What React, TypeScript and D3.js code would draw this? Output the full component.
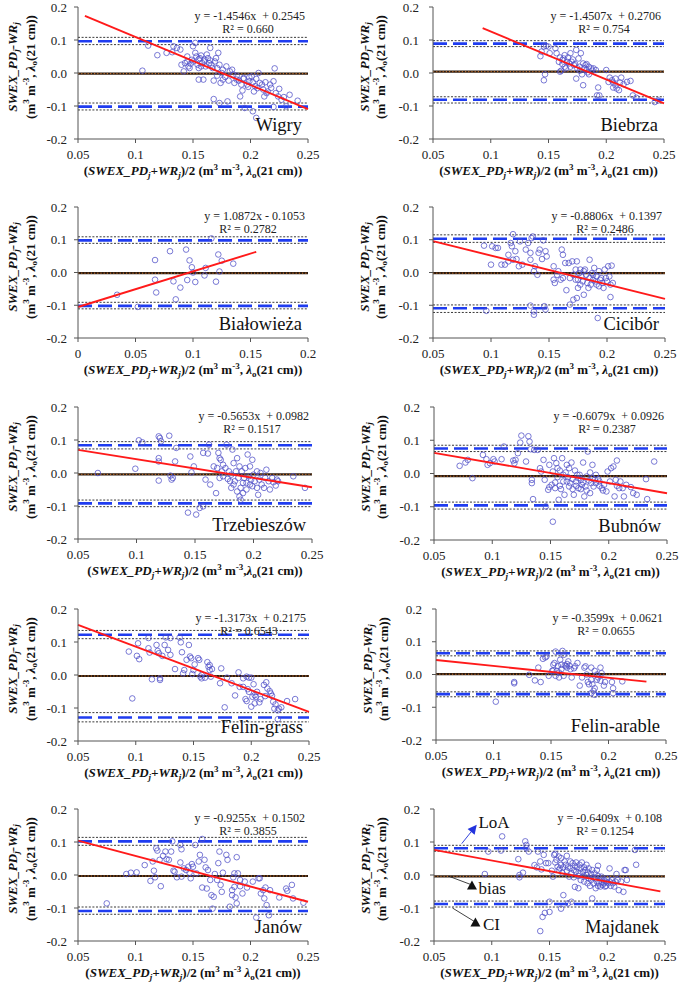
import React from 'react';
import * as d3 from 'd3';

type P = [number, number];

const wigryPts: P[] = [
  [0.111,0.083],[0.119,0.054],[0.106,0.007],[0.127,0.061],[0.133,0.081],[0.139,0.071],[0.140,0.025],[0.142,0.005],
  [0.145,0.035],[0.146,0.02],[0.149,0.04],[0.150,0.081],[0.152,0.091],[0.153,0.05],[0.156,0.045],[0.157,0.02],
  [0.159,-0.02],[0.160,0.035],[0.163,0.045],[0.165,0.076],[0.166,0.025],[0.168,-0.079],[0.169,0.035],[0.171,0.015],
  [0.172,0.061],[0.173,-0.091],[0.175,0.0],[0.176,-0.02],[0.179,0.02],[0.182,0.005],[0.185,-0.005],[0.188,-0.02],
  [0.191,-0.071],[0.194,-0.015],[0.195,-0.106],[0.197,-0.035],[0.199,-0.025],[0.201,-0.01],[0.202,-0.116],[0.204,-0.04],
  [0.205,-0.136],[0.207,0.0],[0.208,-0.03],[0.211,-0.05],[0.214,-0.061],[0.217,-0.035],[0.220,-0.025],[0.221,0.014],
  [0.224,-0.071],[0.227,-0.081],[0.231,-0.101],[0.241,-0.084],[0.234,-0.066],
  [0.132,0.063],[0.136,0.076],[0.143,0.030],[0.145,0.050],[0.147,0.015],[0.148,0.028],[0.150,0.035],[0.152,0.061],
  [0.154,0.025],[0.155,0.042],[0.155,0.015],[0.157,0.053],[0.158,0.030],[0.160,0.040],[0.161,0.020],[0.162,0.056],
  [0.164,0.030],[0.165,0.038],[0.167,0.015],[0.168,-0.023],[0.170,0.045],[0.171,-0.008],[0.173,0.025],[0.174,-0.030],
  [0.176,0.010],[0.178,-0.012],[0.181,-0.023],[0.184,0.010],[0.186,-0.030],[0.188,-0.008],[0.190,-0.023],[0.192,-0.035],
  [0.193,-0.053],[0.194,-0.018],[0.198,-0.042],[0.199,-0.013],[0.202,-0.028],[0.203,-0.056],[0.205,-0.018],[0.206,-0.046],
  [0.210,-0.035],[0.212,-0.071],[0.213,-0.028],[0.215,-0.056],[0.218,-0.045],[0.222,-0.061],[0.225,-0.048],[0.229,-0.073],
  [0.155,-0.020],[0.180,-0.086],[0.220,-0.103]
];

const biebrzaPts: P[] = [
  [0.143,0.051],[0.144,0.065],[0.146,-0.022],[0.147,-0.004],[0.146,0.080],[0.148,0.082],[0.150,0.080],[0.151,0.060],
  [0.156,0.075],[0.157,0.060],[0.159,0.034],[0.160,0.047],[0.160,0.004],[0.161,0.007],[0.162,0.039],[0.162,0.027],
  [0.163,0.044],[0.164,0.019],[0.164,0.054],[0.165,0.014],[0.166,0.034],[0.167,0.047],[0.168,0.029],[0.169,0.060],
  [0.169,0.019],[0.170,0.034],[0.171,0.041],[0.172,0.024],[0.173,0.027],[0.174,0.070],[0.174,-0.017],[0.175,0.014],
  [0.176,0.044],[0.177,0.019],[0.177,0.007],[0.178,0.060],[0.179,-0.004],[0.180,0.029],[0.180,-0.037],[0.181,0.014],
  [0.182,0.024],[0.183,0.009],[0.183,0.027],[0.184,0.002],[0.185,0.019],[0.185,-0.004],[0.187,0.014],[0.188,0.007],
  [0.189,0.014],[0.191,0.009],[0.193,-0.044],[0.192,-0.068],[0.194,-0.068],[0.200,0.009],[0.202,-0.027],[0.203,-0.014],
  [0.205,-0.022],[0.206,-0.044],[0.206,-0.029],[0.208,-0.037],[0.208,-0.017],[0.209,-0.047],[0.211,-0.052],[0.212,-0.029],
  [0.213,-0.014],[0.215,-0.034],[0.218,-0.027],[0.221,-0.024],[0.223,-0.068],[0.226,-0.075],[0.242,-0.088],[0.245,-0.083]
];

const bialowiezaPts: P[] = [
  [0.034,-0.068],[0.052,-0.105],[0.067,0.038],[0.067,-0.022],[0.068,-0.061],[0.080,0.065],[0.083,-0.027],[0.085,-0.082],
  [0.089,-0.046],[0.094,0.070],[0.095,-0.023],[0.097,0.037],[0.099,0.016],[0.100,0.000],[0.102,-0.029],[0.110,-0.009],
  [0.111,0.014],[0.116,0.104],[0.120,-0.028],[0.122,0.055],[0.123,0.003],[0.125,0.036],[0.135,0.027]
];

const ciciborPts: P[] = [
  [0.094,0.082],[0.100,0.024],[0.101,0.080],[0.104,0.075],[0.106,0.075],[0.109,0.024],[0.112,0.024],[0.115,0.034],
  [0.115,0.054],[0.117,0.090],[0.118,0.080],[0.119,0.117],[0.119,0.039],[0.121,0.065],[0.122,0.041],[0.124,0.019],
  [0.125,0.095],[0.127,0.024],[0.130,0.070],[0.132,0.090],[0.134,0.060],[0.134,0.039],[0.135,0.105],[0.136,0.110],
  [0.137,0.004],[0.138,0.019],[0.140,-0.007],[0.141,0.060],[0.142,0.070],[0.144,0.041],[0.145,0.098],[0.147,0.065],
  [0.148,0.049],[0.134,-0.101],[0.137,-0.119],[0.137,-0.129],[0.146,-0.103],[0.147,-0.113],[0.096,-0.117],[0.154,0.019],
  [0.154,-0.022],[0.155,-0.032],[0.157,-0.007],[0.158,0.004],[0.160,-0.022],[0.161,0.070],[0.162,0.054],[0.162,-0.017],
  [0.164,0.029],[0.165,-0.054],[0.167,0.029],[0.168,-0.017],[0.168,-0.098],[0.170,0.034],[0.171,-0.007],[0.171,-0.083],
  [0.173,-0.022],[0.173,0.009],[0.174,0.034],[0.174,-0.078],[0.175,-0.047],[0.175,-0.022],[0.176,-0.002],[0.177,-0.037],
  [0.177,0.009],[0.178,-0.012],[0.179,-0.027],[0.180,0.004],[0.180,-0.068],[0.181,0.009],[0.182,-0.007],[0.183,-0.032],
  [0.184,-0.047],[0.185,-0.017],[0.185,0.039],[0.186,-0.037],[0.187,-0.002],[0.188,-0.022],[0.188,-0.007],[0.189,0.014],
  [0.190,-0.027],[0.191,-0.012],[0.191,-0.037],[0.192,-0.139],[0.193,0.004],[0.193,-0.042],[0.194,-0.022],[0.195,-0.017],
  [0.196,-0.032],[0.197,-0.047],[0.198,0.009],[0.199,-0.017],[0.200,-0.027],[0.201,0.019],[0.202,-0.012],[0.203,-0.037],
  [0.203,-0.075],[0.204,0.021],[0.205,-0.032]
];

const trzebieszowPts: P[] = [
  [0.067,0.000],[0.099,0.013],[0.102,0.099],[0.105,0.093],[0.119,0.045],[0.119,0.035],[0.119,-0.023],[0.119,0.111],
  [0.120,0.106],[0.121,0.096],[0.128,0.113],[0.129,-0.008],[0.130,-0.020],[0.131,-0.015],[0.133,0.035],[0.134,0.076],
  [0.144,-0.120],[0.146,0.050],[0.147,0.002],[0.149,0.020],[0.151,-0.126],[0.154,-0.106],[0.157,-0.101],[0.157,0.061],
  [0.159,-0.020],[0.161,0.059],[0.162,0.086],[0.163,-0.035],[0.166,0.020],[0.168,-0.061],[0.169,0.015],[0.170,0.061],
  [0.171,-0.015],[0.171,0.045],[0.172,0.040],[0.173,0.005],[0.174,0.025],[0.174,-0.010],[0.176,0.015],[0.177,0.086],
  [0.178,-0.018],[0.179,0.005],[0.180,-0.025],[0.181,-0.005],[0.181,-0.045],[0.182,0.071],[0.183,0.030],[0.183,-0.035],
  [0.184,-0.025],[0.185,0.005],[0.186,-0.056],[0.186,0.045],[0.187,-0.015],[0.188,0.020],[0.188,-0.071],[0.189,-0.081],
  [0.189,-0.045],[0.190,0.005],[0.191,-0.030],[0.191,-0.061],[0.192,-0.015],[0.193,0.015],[0.194,-0.050],[0.194,-0.030],
  [0.195,0.056],[0.196,-0.010],[0.197,0.020],[0.197,-0.035],[0.198,-0.020],[0.199,0.040],[0.199,-0.040],[0.200,-0.005],
  [0.201,-0.025],[0.203,0.005],[0.203,-0.045],[0.204,-0.066],[0.205,-0.020],[0.206,0.000],[0.207,-0.035],[0.209,-0.045],
  [0.210,-0.015],[0.211,0.010],[0.213,-0.025],[0.214,-0.050],[0.216,-0.015],[0.217,-0.028],[0.219,-0.038],[0.220,-0.020],
  [0.221,-0.025],[0.234,-0.010],[0.244,-0.045]
];

const bubnowPts: P[] = [
  [0.072,0.023],[0.077,0.033],[0.079,0.041],[0.083,-0.014],[0.092,0.056],[0.095,0.043],[0.096,0.026],[0.098,0.031],
  [0.101,0.043],[0.102,0.036],[0.108,0.043],[0.110,0.081],[0.118,0.039],[0.119,0.031],[0.120,0.041],[0.122,0.061],
  [0.124,0.093],[0.125,0.114],[0.129,0.036],[0.131,0.112],[0.132,0.096],[0.133,0.073],[0.134,-0.019],[0.134,-0.029],
  [0.135,-0.077],[0.136,0.071],[0.139,0.071],[0.141,0.016],[0.142,0.006],[0.144,0.041],[0.145,-0.019],[0.146,-0.099],
  [0.148,-0.049],[0.149,0.026],[0.149,-0.041],[0.151,-0.034],[0.152,-0.145],[0.152,0.006],[0.153,0.046],[0.154,-0.044],
  [0.154,-0.027],[0.155,0.031],[0.156,0.016],[0.156,-0.011],[0.157,-0.079],[0.158,-0.037],[0.158,0.009],[0.159,-0.047],
  [0.160,0.046],[0.161,-0.024],[0.161,-0.004],[0.162,-0.064],[0.163,0.003],[0.164,-0.024],[0.164,0.026],[0.165,-0.011],
  [0.166,-0.039],[0.166,0.016],[0.167,-0.029],[0.168,0.033],[0.169,-0.017],[0.169,-0.047],[0.170,-0.064],[0.171,0.009],
  [0.172,-0.024],[0.172,-0.037],[0.173,-0.004],[0.174,-0.014],[0.174,-0.044],[0.175,-0.004],[0.176,-0.047],[0.176,-0.019],
  [0.177,-0.034],[0.178,0.033],[0.178,-0.027],[0.179,-0.069],[0.180,-0.039],[0.181,-0.009],[0.181,-0.051],[0.182,0.066],
  [0.183,-0.021],[0.184,-0.059],[0.184,0.003],[0.185,-0.029],[0.186,0.026],[0.186,-0.014],[0.187,-0.039],[0.188,-0.019],
  [0.189,-0.004],[0.189,-0.029],[0.191,-0.017],[0.192,-0.037],[0.192,-0.024],[0.194,-0.044],[0.195,-0.051],[0.196,-0.034],
  [0.198,-0.054],[0.199,0.006],[0.201,-0.024],[0.202,0.016],[0.204,0.021],[0.205,-0.069],[0.206,-0.019],[0.207,0.039],
  [0.207,-0.037],[0.209,-0.044],[0.210,-0.024],[0.212,-0.044],[0.213,-0.069],[0.215,-0.034],[0.219,-0.041],[0.221,-0.059],
  [0.224,-0.064],[0.232,-0.017],[0.233,-0.077],[0.239,0.036]
];

const felinGrassPts: P[] = [
  [0.094,0.071],[0.097,-0.071],[0.101,0.058],[0.102,0.096],[0.103,0.048],[0.111,0.112],[0.111,0.081],[0.112,0.068],
  [0.114,-0.013],[0.118,0.091],[0.119,0.073],[0.120,0.066],[0.121,-0.010],[0.121,-0.015],[0.123,0.058],[0.125,0.091],
  [0.126,0.114],[0.128,0.076],[0.130,0.061],[0.130,0.112],[0.134,0.018],[0.138,0.114],[0.139,0.099],[0.140,0.069],
  [0.141,0.005],[0.142,0.015],[0.144,0.046],[0.146,0.091],[0.147,0.056],[0.148,0.051],[0.149,0.003],[0.150,0.015],
  [0.151,0.032],[0.154,0.051],[0.155,0.046],[0.156,-0.005],[0.157,0.000],[0.157,-0.010],[0.160,-0.008],[0.162,0.039],
  [0.163,0.025],[0.164,0.015],[0.164,0.030],[0.165,-0.005],[0.166,0.018],[0.173,-0.025],[0.174,0.020],[0.177,-0.098],
  [0.179,-0.008],[0.183,-0.025],[0.186,-0.062],[0.189,0.008],[0.190,-0.036],[0.193,-0.010],[0.193,-0.036],[0.195,-0.073],
  [0.196,-0.005],[0.196,-0.079],[0.197,-0.043],[0.198,-0.008],[0.198,-0.051],[0.200,-0.096],[0.200,-0.008],[0.201,-0.066],
  [0.202,-0.028],[0.203,-0.061],[0.203,-0.086],[0.204,-0.066],[0.205,-0.051],[0.207,-0.083],[0.208,-0.073],[0.211,-0.030],
  [0.212,-0.064],[0.213,-0.022],[0.214,-0.041],[0.216,-0.049],[0.217,-0.056],[0.218,-0.063],[0.219,-0.081],[0.220,-0.102],
  [0.221,-0.089],[0.223,-0.107],[0.223,-0.134],[0.224,-0.102],[0.226,-0.098],[0.231,-0.079],[0.238,-0.073]
];

const felinArablePts: P[] = [
  [0.102,-0.083],[0.118,-0.023],[0.118,-0.027],[0.131,-0.001],[0.136,-0.018],[0.139,0.021],[0.141,-0.023],[0.143,0.048],
  [0.145,0.052],[0.146,0.055],[0.148,-0.004],[0.151,0.011],[0.152,0.013],[0.152,0.030],[0.153,0.035],[0.154,-0.004],
  [0.154,0.070],[0.155,0.011],[0.156,0.026],[0.157,0.006],[0.157,-0.009],[0.158,0.045],[0.159,0.016],[0.159,0.030],
  [0.160,0.072],[0.161,-0.004],[0.161,0.060],[0.162,0.028],[0.163,0.025],[0.164,0.032],[0.164,0.021],[0.165,0.040],
  [0.166,0.027],[0.167,0.016],[0.168,-0.009],[0.170,0.019],[0.171,0.025],[0.173,0.035],[0.175,-0.034],[0.177,-0.009],
  [0.179,0.021],[0.180,0.025],[0.181,0.000],[0.182,-0.023],[0.183,-0.030],[0.185,0.021],[0.185,-0.016],[0.186,-0.030],
  [0.187,-0.050],[0.188,-0.042],[0.188,0.011],[0.190,-0.016],[0.190,0.000],[0.191,-0.009],[0.193,-0.019],[0.193,0.021],
  [0.194,0.004],[0.196,-0.034],[0.197,-0.023],[0.203,-0.023],[0.204,-0.042],[0.204,-0.057],[0.212,-0.021],[0.185,-0.057],
  [0.188,-0.062]
];

const janowPts: P[] = [
  [0.075,-0.086],[0.092,0.003],[0.096,0.007],[0.101,0.008],[0.108,0.030],[0.113,-0.018],[0.115,0.041],[0.116,0.013],
  [0.117,-0.007],[0.118,0.081],[0.119,0.074],[0.121,0.046],[0.122,-0.034],[0.124,0.058],[0.126,0.071],[0.127,0.048],
  [0.129,0.046],[0.131,0.071],[0.132,0.102],[0.133,0.013],[0.134,0.010],[0.136,-0.007],[0.139,0.038],[0.139,0.091],
  [0.140,0.078],[0.140,-0.005],[0.142,0.020],[0.144,0.015],[0.146,0.025],[0.147,0.007],[0.148,-0.010],[0.149,0.033],
  [0.150,0.025],[0.152,0.091],[0.153,0.005],[0.155,0.041],[0.156,0.061],[0.158,0.109],[0.158,-0.038],[0.160,0.046],
  [0.161,0.023],[0.162,-0.041],[0.163,0.015],[0.165,-0.015],[0.166,-0.061],[0.167,-0.102],[0.168,-0.066],[0.169,0.003],
  [0.171,-0.015],[0.172,0.036],[0.173,0.071],[0.174,-0.030],[0.175,-0.051],[0.176,0.007],[0.179,0.061],[0.180,0.046],
  [0.182,-0.096],[0.184,-0.046],[0.184,-0.061],[0.185,-0.007],[0.186,-0.036],[0.186,0.005],[0.187,-0.068],[0.188,0.054],
  [0.188,-0.086],[0.189,0.005],[0.191,-0.015],[0.191,-0.034],[0.193,-0.056],[0.195,-0.020],[0.197,-0.038],[0.202,-0.020],
  [0.205,-0.129],[0.207,-0.010],[0.208,-0.010],[0.209,-0.056],[0.211,-0.046],[0.212,-0.071],[0.213,-0.038],[0.214,-0.091],
  [0.216,-0.122],[0.217,-0.046],[0.225,-0.068],[0.231,-0.041],[0.232,-0.048],[0.236,-0.030],[0.237,-0.071],[0.246,-0.084]
];

const majdanekPts: P[] = [
  [0.094,0.003],[0.097,0.071],[0.109,0.117],[0.108,0.074],[0.123,0.048],[0.124,0.000],[0.124,-0.007],[0.127,0.007],
  [0.129,0.102],[0.130,0.091],[0.130,0.081],[0.132,0.071],[0.137,0.030],[0.139,0.023],[0.140,0.071],[0.142,0.041],
  [0.143,0.017],[0.144,-0.127],[0.145,0.061],[0.146,-0.115],[0.147,0.036],[0.142,-0.170],[0.149,0.036],[0.150,-0.112],
  [0.150,-0.081],[0.152,0.013],[0.153,-0.005],[0.154,0.061],[0.155,0.064],[0.155,0.038],[0.156,0.046],[0.157,0.025],
  [0.158,0.015],[0.158,0.056],[0.159,0.020],[0.160,-0.102],[0.160,0.031],[0.160,0.051],[0.161,0.007],[0.162,-0.061],
  [0.162,0.023],[0.163,0.041],[0.164,0.031],[0.165,0.013],[0.165,0.058],[0.166,-0.086],[0.166,0.023],[0.167,-0.005],
  [0.168,0.041],[0.168,0.020],[0.169,0.005],[0.169,-0.081],[0.170,0.036],[0.171,0.015],[0.171,-0.007],[0.172,0.028],
  [0.172,-0.036],[0.173,0.038],[0.173,0.010],[0.174,0.023],[0.175,-0.003],[0.175,-0.040],[0.176,0.031],[0.176,0.005],
  [0.177,0.020],[0.177,-0.015],[0.178,0.038],[0.179,0.010],[0.179,-0.005],[0.180,0.023],[0.180,-0.020],[0.181,0.015],
  [0.182,0.000],[0.182,0.031],[0.183,-0.025],[0.183,0.008],[0.184,-0.010],[0.184,0.020],[0.185,-0.033],[0.186,0.003],
  [0.186,-0.015],[0.187,0.015],[0.187,-0.071],[0.188,-0.007],[0.188,-0.025],[0.189,0.005],[0.190,-0.040],[0.190,-0.010],
  [0.191,0.015],[0.191,-0.020],[0.192,-0.033],[0.192,-0.003],[0.193,-0.025],[0.194,-0.010],[0.194,-0.035],[0.195,-0.005],
  [0.195,-0.020],[0.196,-0.030],[0.197,-0.015],[0.197,-0.025],[0.198,-0.035],[0.199,-0.020],[0.199,-0.033],[0.200,-0.010],
  [0.201,-0.025],[0.202,0.020],[0.202,-0.020],[0.203,-0.033],[0.204,-0.015],[0.205,-0.025],[0.206,-0.035],[0.207,-0.020],
  [0.208,0.003],[0.209,-0.015],[0.210,-0.046],[0.212,-0.020],[0.214,-0.051],[0.215,0.015],[0.216,0.015],[0.217,-0.015],
  [0.224,0.076],[0.225,0.031],[0.192,0.028]
];

const xTicksStd = [0.05, 0.1, 0.15, 0.2, 0.25];
const xTicksBial = [0, 0.05, 0.1, 0.15, 0.2];
const yTicks = [-0.2, -0.1, 0, 0.1, 0.2];

const siteNames = ['Wigry', 'Biebrza', 'Białowieża', 'Cicibór', 'Trzebieszów', 'Bubnów', 'Felin-grass', 'Felin-arable', 'Janów', 'Majdanek'];
const sitePoints = [wigryPts, biebrzaPts, bialowiezaPts, ciciborPts, trzebieszowPts, bubnowPts, felinGrassPts, felinArablePts, janowPts, majdanekPts];
const slopes = [-1.4546, -1.4507, 1.0872, -0.8806, -0.5653, -0.6079, -1.3173, -0.3599, -0.9255, -0.6409];
const intercepts = [0.2545, 0.2706, -0.1053, 0.1397, 0.0982, 0.0926, 0.2175, 0.0621, 0.1502, 0.108];
const equations = ['y = -1.4546x  + 0.2545', 'y = -1.4507x  + 0.2706', 'y = 1.0872x - 0.1053', 'y = -0.8806x  + 0.1397', 'y = -0.5653x  + 0.0982', 'y = -0.6079x  + 0.0926', 'y = -1.3173x  + 0.2175', 'y = -0.3599x  + 0.0621', 'y = -0.9255x  + 0.1502', 'y = -0.6409x  + 0.108'];
const r2Labels = ['R² = 0.660', 'R² = 0.754', 'R² = 0.2782', 'R² = 0.2486', 'R² = 0.1517', 'R² = 0.2387', 'R² = 0.6543', 'R² = 0.0655', 'R² = 0.3855', 'R² = 0.1254'];
const fitRanges: P[] = [[0.056, 0.25], [0.093, 0.25], [0, 0.155], [0.05, 0.25], [0.05, 0.25], [0.05, 0.25], [0.05, 0.25], [0.05, 0.233], [0.05, 0.25], [0.05, 0.246]];
const biasValues = [-0.002, 0.004, -0.002, -0.002, -0.004, -0.008, -0.003, 0.001, -0.003, -0.004];
const loaUpper = [0.096, 0.089, 0.098, 0.103, 0.084, 0.075, 0.122, 0.065, 0.102, 0.081];
const loaLower = [-0.102, -0.081, -0.102, -0.109, -0.092, -0.096, -0.129, -0.060, -0.109, -0.088];
const ciUpper: P[] = [[0.108, 0.086], [0.098, 0.080], [0.109, 0.089], [0.115, 0.092], [0.095, 0.073], [0.085, 0.066], [0.135, 0.110], [0.072, 0.057], [0.114, 0.090], [0.090, 0.072]];
const ciLower: P[] = [[-0.091, -0.112], [-0.072, -0.091], [-0.091, -0.111], [-0.099, -0.122], [-0.082, -0.102], [-0.086, -0.107], [-0.114, -0.142], [-0.053, -0.068], [-0.097, -0.119], [-0.079, -0.097]];
const xTitleSeps = [', ', ', ', ', ', ', ', ',', ', ', ', ', ', ', ' ', ', '];

// layout boxes [left, top, right, bottom]
const boxes = [
  [78, 7, 308, 139], [433, 7, 664, 139],
  [78, 207, 308, 338], [433, 207, 665, 338],
  [78, 407, 312, 539], [434, 407, 667, 540],
  [78, 609, 309, 741], [436, 609, 666, 740],
  [78, 809, 308, 941], [434, 809, 665, 941],
];

const FONT = '"Liberation Serif", "Times New Roman", serif';
const SUB = 9;

function XTitle({ cx, y, sep }: { cx: number; y: number; sep: string }) {
  return (
    <text x={cx} y={y} textAnchor="middle" fontWeight="bold" fontSize={13} fontFamily={FONT} style={{ whiteSpace: 'pre' }} fill="#111">
      <tspan>(</tspan>
      <tspan fontStyle="italic">SWEX_PD</tspan>
      <tspan fontStyle="italic" fontSize={SUB} dy={3}>j</tspan>
      <tspan fontStyle="italic" dy={-3}>+WR</tspan>
      <tspan fontStyle="italic" fontSize={SUB} dy={3}>j</tspan>
      <tspan dy={-3}>)/2 (m</tspan>
      <tspan fontSize={SUB} dy={-5}>3</tspan>
      <tspan dy={5}> m</tspan>
      <tspan fontSize={SUB} dy={-5}>-3</tspan>
      <tspan dy={5}>{sep}</tspan>
      <tspan fontStyle="italic">λ</tspan>
      <tspan fontSize={SUB} dy={3}>o</tspan>
      <tspan dy={-3}>(21 cm))</tspan>
    </text>
  );
}

function YTitle({ x1, x2, cy }: { x1: number; x2: number; cy: number }) {
  return (
    <g fontFamily={FONT} fontWeight="bold" fontSize={13} fill="#111" style={{ whiteSpace: 'pre' }}>
      <text transform={`translate(${x1},${cy}) rotate(-90)`} textAnchor="middle" dominantBaseline="middle" fontStyle="italic">
        <tspan>SWEX_PD</tspan>
        <tspan fontSize={SUB} dy={3}>j</tspan>
        <tspan dy={-3}>-WR</tspan>
        <tspan fontSize={SUB} dy={3}>j</tspan>
      </text>
      <text transform={`translate(${x2},${cy}) rotate(-90)`} textAnchor="middle" dominantBaseline="middle">
        <tspan>(m</tspan>
        <tspan fontSize={SUB} dy={-5}>3</tspan>
        <tspan dy={5}> m</tspan>
        <tspan fontSize={SUB} dy={-5}>-3</tspan>
        <tspan dy={5}>, </tspan>
        <tspan fontStyle="italic">λ</tspan>
        <tspan fontSize={SUB} dy={3}>o</tspan>
        <tspan dy={-3}>(21 cm))</tspan>
      </text>
    </g>
  );
}

function Panel({ i }: { i: number }) {
  const [l, t, r, b] = boxes[i];
  const col = i % 2;
  const isBial = i === 2;
  const xDomain: P = isBial ? [0, 0.2] : [0.05, 0.25];
  const xt = isBial ? xTicksBial : xTicksStd;
  const x = d3.scaleLinear().domain(xDomain).range([l, r]);
  const y = d3.scaleLinear().domain([-0.2, 0.2]).range([b, t]);
  const fmtX = d3.format('~g');
  const hline = (v: number) => ({ x1: l, x2: r, y1: y(v), y2: y(v) });
  const [f0, f1] = fitRanges[i];
  const fitLine = d3.line<number>().x(v => x(v)).y(v => y(slopes[i] * v + intercepts[i]));
  const yLabOff = col === 0 ? 11 : 14;
  const yT1 = col === 0 ? l - 64 : l - 67;
  const yT2 = col === 0 ? l - 46 : l - 51;
  const ciStyle = { stroke: '#222', strokeWidth: 0.9, strokeDasharray: '2,1.6', fill: 'none' };
  const loaStyle = { stroke: '#1f3cf0', strokeWidth: 2.6, strokeDasharray: '14,6', fill: 'none' };
  return (
    <g>
      {[...ciUpper[i], ...ciLower[i]].map((v, k) => (
        <line key={'ci' + k} {...hline(v)} style={ciStyle} />
      ))}
      <line {...hline(loaUpper[i])} style={loaStyle} />
      <line {...hline(loaLower[i])} style={loaStyle} />
      <line {...hline(biasValues[i])} stroke="#2a1a10" strokeWidth={2.2} />
      <line {...hline(biasValues[i])} stroke="#e8822a" strokeWidth={0.9} strokeDasharray="1.2,2" />
      {sitePoints[i].map((p, k) => (
        <circle key={k} cx={x(p[0])} cy={y(p[1])} r={2.8} fill="none" stroke="#5050c8" strokeWidth={0.85} strokeOpacity={0.9} />
      ))}
      <path d={fitLine([f0, f1]) || ''} stroke="#ff1a1a" strokeWidth={1.9} fill="none" />
      <line x1={l} x2={l} y1={t} y2={b} stroke="#555" strokeWidth={1} />
      <line x1={l} x2={r} y1={b} y2={b} stroke="#555" strokeWidth={1} />
      {yTicks.map(v => (
        <g key={'yt' + v}>
          <line x1={l - 4} x2={l} y1={y(v)} y2={y(v)} stroke="#555" />
          <text x={l - yLabOff} y={y(v) + 4.5} textAnchor="end" fontSize={13} fontFamily={FONT} fill="#222">{v.toFixed(1)}</text>
        </g>
      ))}
      {xt.map(v => (
        <g key={'xt' + v}>
          <line x1={x(v)} x2={x(v)} y1={b} y2={b + 4} stroke="#555" />
          <text x={x(v)} y={b + 20} textAnchor="middle" fontSize={13} fontFamily={FONT} fill="#222">{fmtX(v)}</text>
        </g>
      ))}
      <text x={r - 3} y={t + 13} textAnchor="end" fontSize={12} fontFamily={FONT} fill="#222" style={{ whiteSpace: 'pre' }}>{equations[i]}</text>
      <text x={r - 60} y={t + 26} textAnchor="middle" fontSize={12} fontFamily={FONT} fill="#222">{r2Labels[i]}</text>
      <text x={r - 6} y={b - 8} textAnchor="end" fontSize={18.5} fontFamily={FONT} fill="#111">{siteNames[i]}</text>
      <XTitle cx={(l + r) / 2} y={b + 36} sep={xTitleSeps[i]} />
      <YTitle x1={yT1} x2={yT2} cy={t + 60} />
    </g>
  );
}

function Annotations() {
  const [l, t, r, b] = boxes[9];
  const x = d3.scaleLinear().domain([0.05, 0.25]).range([l, r]);
  const y = d3.scaleLinear().domain([-0.2, 0.2]).range([b, t]);
  const lx1 = x(0.074), ly1 = y(0.095), lx2 = x(0.087), ly2 = y(0.152);
  const ang = Math.atan2(ly2 - ly1, lx2 - lx1);
  const hl = 9, hw = 4.5;
  const bx = lx2 - hl * Math.cos(ang), by = ly2 - hl * Math.sin(ang);
  const head = [
    [lx2, ly2],
    [bx + hw * Math.sin(ang), by - hw * Math.cos(ang)],
    [bx - hw * Math.sin(ang), by + hw * Math.cos(ang)],
  ].map(p => p.join(',')).join(' ');
  const tri = (cx: number, cy: number) => `${cx},${cy - 5} ${cx - 5},${cy + 4} ${cx + 5},${cy + 4}`;
  const bx1 = x(0.063), by1 = y(-0.004), bx2 = x(0.082), by2 = y(-0.029);
  const cx1 = x(0.066), cy1 = y(-0.1), cx2 = x(0.085), cy2 = y(-0.141);
  return (
    <g fontFamily={FONT} fill="#111">
      <line x1={lx1} y1={ly1} x2={bx} y2={by} stroke="#3344dd" strokeWidth={1} />
      <polygon points={head} fill="#2233dd" />
      <text x={x(0.0885)} y={y(0.142)} fontSize={17}>LoA</text>
      <line x1={bx1} y1={by1} x2={bx2} y2={by2} stroke="#111" strokeWidth={0.8} />
      <polygon points={tri(bx2 + 1, by2 + 1)} fill="#111" />
      <text x={x(0.0885)} y={y(-0.058)} fontSize={17}>bias</text>
      <line x1={cx1} y1={cy1} x2={cx2} y2={cy2} stroke="#111" strokeWidth={0.8} />
      <polygon points={tri(cx2 + 1, cy2 + 1)} fill="#111" />
      <text x={x(0.0924)} y={y(-0.1667)} fontSize={17}>CI</text>
    </g>
  );
}

export default function App() {
  return (
    <svg width={681} height={985} viewBox="0 0 681 985" style={{ position: 'absolute', left: 0, top: 0, background: '#fff' }}>
      <rect x={0} y={0} width={681} height={985} fill="#fff" />
      {siteNames.map((_, i) => <Panel key={i} i={i} />)}
      <Annotations />
    </svg>
  );
}
